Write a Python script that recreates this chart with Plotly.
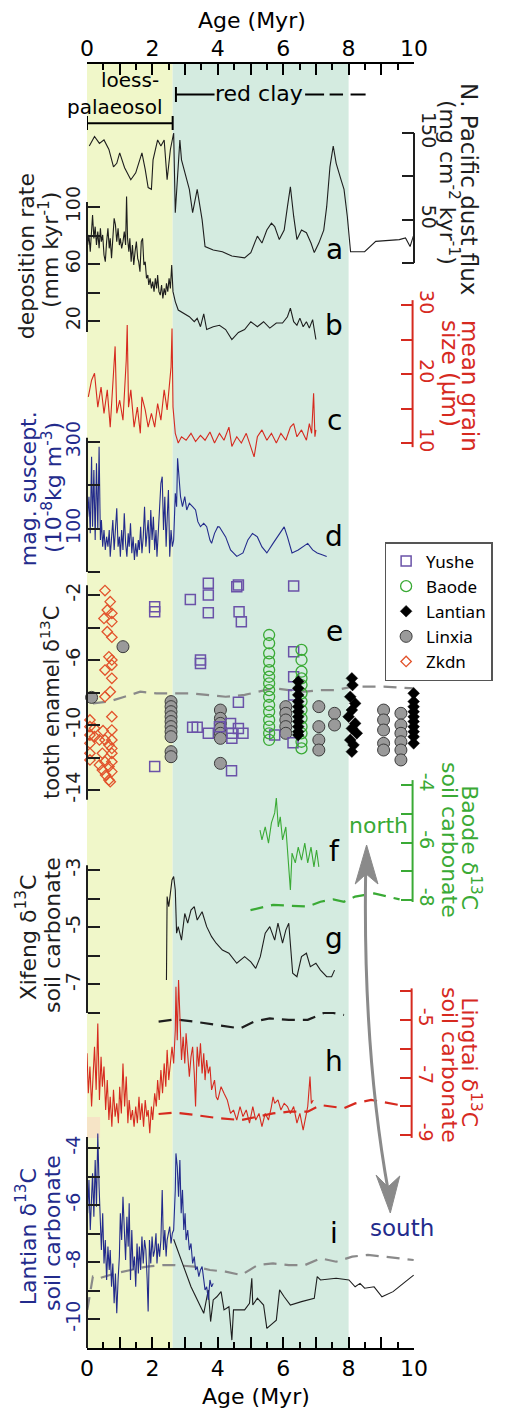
import plotly.graph_objects as go

FONT = "DejaVu Sans, Noto Sans, sans-serif"
LFONT = "Noto Sans, DejaVu Sans, sans-serif"
W, H = 505, 1410
PL, PR, PT, PB = 87, 432, 64, 1348

# ---------------- data ----------------
# a: N. Pacific dust flux (mg cm-2 kyr-1)
a_age = [0.07,0.23,0.38,0.52,0.67,0.81,0.91,1.0,1.15,1.34,1.49,1.68,1.78,1.87,1.97,2.02,2.16,2.26,2.36,2.45,
         2.55,2.65,2.7,2.77,2.84,2.89,2.99,3.13,3.23,3.37,3.52,3.61,3.86,4.14,4.43,4.82,5.01,5.21,5.35,5.5,
         5.64,5.74,5.88,6.03,6.13,6.22,6.32,6.42,6.56,6.71,6.85,6.95,7.09,7.24,7.33,7.43,7.53,7.62,7.77,7.86,
         7.96,8.06,8.49,8.83,9.55,9.74,9.88,9.98]
a_flux = [135,146,138,142,131,111,115,127,110,96,104,127,108,87,85,119,142,135,142,96,
          131,150,58,104,142,119,104,85,58,85,50,19,15,13,8,6,12,31,23,38,
          46,42,27,38,65,88,54,27,38,35,23,12,23,38,65,111,135,115,96,85,
          54,13,13,25,27,29,19,31]

# b: deposition rate (mm kyr-1)
b_age = [0.02,0.06,0.1,0.14,0.17,0.21,0.25,0.29,0.33,0.37,0.41,0.44,0.48,0.52,0.56,0.6,0.64,0.68,0.71,0.75,
         0.79,0.83,0.87,0.91,0.95,0.99,1.02,1.06,1.1,1.14,1.18,1.21,1.24,1.28,1.31,1.35,1.39,1.43,1.47,1.51,
         1.55,1.58,1.62,1.66,1.7,1.74,1.78,1.82,1.86,1.89,1.93,1.97,2.01,2.05,2.09,2.13,2.16,2.2,2.24,2.28,
         2.32,2.36,2.4,2.43,2.47,2.51,2.55,2.59,2.63,
         2.7,2.79,2.94,3.13,3.28,3.37,3.47,3.57,3.66,3.86,4.05,4.24,4.43,4.63,4.82,5.01,5.21,5.4,5.59,5.79,
         5.98,6.13,6.22,6.32,6.42,6.51,6.61,6.71,6.8,6.9,7.0]
b_rate = [73.3,80.4,68.7,85.0,94.4,78.0,86.2,73.3,82.7,71.0,85.0,75.7,80.4,66.3,61.6,75.7,85.0,71.0,78.0,64.0,
          80.4,92.0,87.4,75.7,85.0,73.3,78.0,71.0,75.7,82.7,73.3,107.3,78.0,68.7,78.0,61.6,73.3,59.3,68.7,75.7,
          64.0,61.6,54.6,75.7,78.0,59.3,61.6,49.9,52.3,45.3,49.9,42.9,47.6,40.6,49.9,42.9,52.3,40.6,38.2,45.3,
          35.9,42.9,38.2,46.4,40.6,49.9,42.9,59.3,40.6,
          33.6,27.7,25.4,23.0,19.5,21.9,16.0,25,14,16,17,14,7,12,14,19.5,16,19.5,15,18.6,
          18.6,23,29,19.5,17,22,16,19.5,15,21,7]

# c: mean grain size (um)
c_age = [0.04,0.14,0.23,0.33,0.43,0.52,0.62,0.71,0.81,0.86,0.91,1.0,1.1,1.2,1.23,1.27,1.34,1.44,1.54,1.63,
         1.68,1.78,1.87,1.97,2.07,2.16,2.26,2.36,2.45,2.52,2.57,2.6,2.63,2.7,2.79,2.89,3.03,3.18,3.32,3.47,
         3.61,3.76,3.9,4.05,4.19,4.34,4.43,4.58,4.72,4.87,5.01,5.11,5.21,5.35,5.5,5.64,5.79,5.93,6.08,6.22,
         6.32,6.42,6.56,6.71,6.8,6.87,6.93,6.97,7.0]
c_size = [16.7,19.1,20.1,15.2,18.1,14.3,17.7,12.3,20.1,24,14.3,16.2,13.3,22,27.1,15.2,17.7,12.3,15.2,11.4,
          16.7,14.8,12.3,14.3,12.3,15.7,13.3,17.7,14.8,18.1,21,26.6,15.2,11.4,10,10.9,10.4,11.4,10.2,11.1,
          10.4,11.6,10,11.4,10.4,12.3,9.5,10.9,10,11.4,9.5,8,10.9,11.9,10.4,11.4,10,11.4,10.4,12.3,
          12.8,10.9,11.9,10.4,12.8,11.4,17.2,10.9,11.9]

# d: magnetic susceptibility (1e-8 kg m-3)
d_age = [0.02,0.06,0.1,0.14,0.17,0.21,0.25,0.29,0.33,0.37,0.41,0.44,0.48,0.52,0.56,0.6,0.64,0.68,0.71,0.75,
         0.79,0.83,0.87,0.91,0.95,0.99,1.02,1.06,1.1,1.14,1.18,1.22,1.26,1.29,1.33,1.37,1.41,1.45,1.49,1.53,
         1.57,1.6,1.64,1.68,1.72,1.76,1.8,1.84,1.87,1.91,1.95,1.99,2.03,2.07,2.11,2.14,2.18,2.22,2.26,2.3,
         2.34,2.38,2.42,2.45,2.49,2.53,2.57,2.61,2.65,
         2.7,2.74,2.77,2.82,2.86,2.92,2.99,3.05,3.13,3.23,3.32,3.39,3.47,3.57,3.66,3.76,3.81,3.9,4.0,
         4.05,4.24,4.39,4.58,4.77,4.92,5.06,5.21,5.35,5.5,5.69,5.88,6.03,6.13,6.27,6.46,6.61,6.75,6.9,7.04,
         7.19,7.33]
d_ms = [127.7,173.8,89.2,266.2,104.6,235.4,73.8,250.8,96.9,289.2,73.8,120.0,58.5,96.9,50.8,81.5,58.5,96.9,35.4,73.8,
        120.0,50.8,96.9,146.9,58.5,81.5,35.4,96.9,50.8,135.4,66.2,35.4,89.2,58.5,112.3,43.1,81.5,27.7,66.2,35.4,
        73.8,50.8,104.6,43.1,81.5,150.8,58.5,89.2,120.0,43.1,143.1,73.8,127.7,50.8,96.9,35.4,104.6,150.8,204.6,220.0,
        96.9,173.8,58.5,120.0,189.2,35.4,96.9,58.5,73.8,
        181.5,150.8,262.3,220.0,173.8,150.8,173.8,143.1,158.5,150.8,143.1,116.2,104.6,112.3,104.6,73.8,66.2,89.2,104.6,
        104,81,51,36,44,74,89,81,58,44,66,89,104,81,44,51,58,66,51,44,
        40,36]

# e: tooth enamel d13C
yushe_age = [2.07,2.07,3.16,3.71,3.71,3.71,4.63,4.58,4.65,4.72,3.47,3.47,4.63,6.32,6.32,6.32,6.32,6.30,2.07,
             3.23,3.37,3.71,4.05,4.39,4.43,4.43,4.63,4.77,4.42,5.74]
yushe_d13c = [-2.72,-3.03,-2.27,-1.28,-2.0,-3.09,-1.38,-1.49,-3.03,-3.64,-6.0,-6.21,-8.6,-1.45,-5.49,-7.03,-8.15,-11.09,-12.56,
              -10.14,-10.14,-10.51,-10.1,-9.9,-10.51,-10.82,-10.21,-10.51,-12.81,-10.62]
baode_age = [5.57]*15 + [6.56]*13
baode_d13c = [-4.46,-4.97,-5.59,-6.1,-6.62,-7.03,-7.44,-7.85,-8.26,-8.77,-9.18,-9.69,-10.1,-10.51,-10.92,
              -5.38,-6.0,-6.72,-7.13,-7.54,-8.05,-8.56,-9.08,-9.59,-10.1,-10.51,-11.03,-11.44]
lantian_age = [6.46]*11 + [8.1,8.12,8.05,8.2,8.1,8.0,8.2,8.1,8.25,8.05,8.15,8.1] + [9.99]*10
lantian_d13c = [-7.33,-7.74,-8.15,-8.56,-8.87,-9.18,-9.49,-9.79,-10.1,-10.41,-10.62,
                -7.13,-7.54,-8.26,-8.67,-9.08,-9.49,-9.9,-10.21,-10.51,-10.92,-11.23,-11.64,
                -8.05,-8.56,-8.87,-9.18,-9.49,-9.79,-10.1,-10.41,-10.72,-11.13]
linxia_age = [1.10,0.14] + [2.57]*10 + [4.08]*7 + [6.08]*5 + [7.09]*4 + [7.57]*2 + [9.07]*5 + [9.6]*6
linxia_d13c = [-5.18,-8.3,
               -8.56,-8.87,-9.18,-9.49,-9.79,-10.1,-10.41,-10.72,-11.64,-11.95,
               -9.08,-9.59,-9.9,-10.21,-10.51,-10.82,-12.36,
               -8.87,-9.28,-9.69,-10.1,-10.51,
               -8.87,-10.1,-10.92,-11.54,
               -9.28,-10.0,
               -9.08,-9.69,-10.31,-11.13,-11.54,
               -9.28,-10.0,-10.51,-11.03,-11.54,-12.15]
zkdn_age = [0.55,0.71,0.62,0.76,0.52,0.76,0.62,0.76,0.67,0.76,0.76,0.55,0.76,0.71,0.55,0.76,0.09,0.09,0.23,0.49,
            0.76,0.09,0.23,0.38,0.55,0.76,0.09,0.67,0.76,0.09,0.47,0.76,0.09,0.55,0.76,0.38,0.67,0.47,0.76,0.57,
            0.67,0.71]
zkdn_d13c = [-1.73,-2.41,-2.92,-3.13,-3.44,-3.64,-4.26,-4.6,-5.8,-6.0,-6.31,-6.62,-7.13,-7.95,-8.26,-9.49,-9.69,-10.1,-10.2,-10.35,
             -10.31,-10.62,-10.72,-10.92,-10.92,-10.92,-11.13,-11.23,-11.44,-11.74,-11.74,-11.74,-12.15,-12.26,-12.26,-12.46,-12.56,-12.77,-12.87,-13.08,
             -13.38,-13.49]
e_dash_age = [0.18,0.67,1.15,1.63,2.12,2.6,3.18,3.66,4.24,4.82,5.21,5.69,6.17,6.66,7.14,7.62,8.11,8.59,9.07,9.99]
e_dash_val = [-8.67,-8.56,-8.26,-7.95,-8.05,-8.05,-8.05,-8.15,-8.26,-8.15,-7.95,-7.74,-7.85,-7.95,-7.85,-7.85,-7.64,-7.64,-7.64,-7.74]

# f: Baode soil carbonate d13C
f_age = [5.29,5.35,5.45,5.55,5.64,5.74,5.79,5.85,5.91,5.98,6.08,6.13,6.22,6.27,6.37,6.46,6.56,6.66,6.75,6.85,6.94,7.02,7.09]
f_d13c = [-5.57,-5.91,-5.46,-6.02,-5.32,-4.97,-4.45,-5.46,-5.11,-5.91,-5.46,-6.16,-7.65,-6.37,-6.71,-6.16,-6.61,-6.02,-6.71,-6.16,-6.85,-6.26,-6.85]
f_dash_age = [5.0,5.69,6.75,7.14,7.53,7.86,8.2,8.78,9.56]
f_dash_val = [-8.35,-8.17,-8.23,-8.06,-7.98,-8.06,-7.88,-7.77,-7.98]

# g: Xifeng soil carbonate d13C
g_age = [2.43,2.43,2.45,2.5,2.55,2.6,2.65,2.7,2.74,2.79,2.89,2.99,3.08,3.18,3.28,3.37,3.52,3.66,3.81,3.95,
         4.14,4.34,4.58,4.82,5.01,5.16,5.3,5.45,5.59,5.74,5.84,5.98,6.08,6.17,6.29,6.42,6.56,6.71,6.83,7.0,
         7.14,7.33,7.48,7.57]
g_d13c = [-6.85,-5.45,-3.93,-4.28,-3.82,-3.35,-3.23,-3.7,-5.21,-4.98,-5.45,-4.52,-4.86,-4.4,-4.28,-4.75,-4.46,-4.98,-5.33,-5.56,
          -5.8,-5.91,-6.26,-6.03,-6.21,-6.44,-6.03,-5.21,-4.98,-5.45,-4.86,-5.56,-5.1,-4.86,-6.61,-6.73,-6.03,-5.91,-6.38,-6.26,
          -6.5,-6.73,-6.73,-6.5]
g_dash_age = [2.19,2.7,3.28,4.05,4.68,5.11,5.59,6.17,6.75,7.24,7.53,7.86]
g_dash_val = [-8.3,-8.22,-8.3,-8.42,-8.54,-8.3,-8.19,-8.24,-8.24,-8.0,-8.0,-8.07]

# h: Lingtai soil carbonate d13C
h_age = [0.0,0.04,0.09,0.14,0.18,0.23,0.28,0.33,0.38,0.43,0.47,0.52,0.57,0.62,0.67,0.71,0.76,0.81,0.86,0.91,
         0.96,1.0,1.05,1.1,1.15,1.2,1.25,1.29,1.34,1.39,1.44,1.49,1.54,1.59,1.63,1.68,1.73,1.78,1.83,1.87,
         1.92,1.97,2.01,2.07,2.12,2.16,2.21,2.26,2.31,2.36,2.41,2.45,2.5,2.55,2.6,2.65,2.7,2.72,2.76,2.8,
         2.84,2.89,2.94,2.99,3.03,3.08,3.13,3.18,3.23,3.28,3.32,3.37,3.42,3.47,3.52,3.57,3.61,3.66,3.71,3.76,
         3.81,3.9,3.95,4.0,4.1,4.19,4.29,4.34,4.39,4.48,4.58,4.68,4.77,4.87,4.97,5.07,5.16,5.26,5.35,5.45,
         5.55,5.64,5.69,5.74,5.84,5.93,6.03,6.13,6.22,6.32,6.42,6.51,6.61,6.71,6.75,6.82,6.86,6.92]
h_d13c = [-6.16,-7.55,-6.62,-8.01,-7.09,-5.93,-7.43,-5.12,-7.78,-6.28,-7.32,-6.62,-8.13,-7.09,-8.48,-7.67,-8.71,-7.43,-8.36,-7.9,
          -8.59,-7.32,-8.25,-6.51,-8.01,-6.97,-8.59,-7.78,-8.48,-8.13,-8.71,-8.01,-8.59,-7.67,-8.48,-7.9,-8.71,-7.78,-8.36,-8.13,
          -8.94,-8.01,-8.48,-7.55,-8.01,-7.09,-7.78,-6.74,-7.55,-6.51,-7.32,-6.04,-7.09,-6.39,-5.93,-6.51,-5.35,-3.84,-5.7,-3.61,
          -4.77,-6.39,-5.58,-6.51,-5.46,-6.16,-6.97,-6.28,-5.93,-6.86,-8.01,-5.93,-6.62,-5.81,-6.86,-6.16,-7.09,-6.39,-6.86,-6.62,
          -7.43,-7.09,-7.67,-7.78,-7.32,-7.55,-7.78,-8.01,-8.25,-8.13,-8.48,-8.01,-8.36,-8.13,-8.59,-8.01,-8.48,-8.25,-8.71,-8.25,
          -8.48,-8.01,-7.67,-7.9,-7.78,-8.13,-7.9,-8.01,-8.25,-8.01,-8.59,-8.25,-8.83,-8.25,-8.01,-6.97,-7.9,-7.78]
h_dash_age = [2.19,2.7,3.28,4.05,4.72,5.2,5.69,6.17,6.75,7.14,7.53,7.86,8.2,8.69,9.56]
h_dash_val = [-8.27,-8.22,-8.3,-8.42,-8.48,-8.36,-8.25,-8.19,-8.19,-7.96,-8.01,-8.07,-7.9,-7.78,-7.96]

# i: Lantian soil carbonate d13C
i_age = [0.02,0.06,0.1,0.14,0.17,0.21,0.25,0.29,0.33,0.37,0.41,0.44,0.48,0.52,0.56,0.6,0.64,0.68,0.71,0.75,
         0.79,0.83,0.87,0.91,0.95,0.99,1.02,1.06,1.1,1.14,1.18,1.22,1.26,1.29,1.33,1.37,1.41,1.45,1.49,1.53,
         1.57,1.6,1.64,1.68,1.72,1.76,1.8,1.84,1.87,1.91,1.95,1.99,2.03,2.07,2.11,2.14,2.18,2.22,2.26,2.3,
         2.34,2.38,2.42,2.45,2.49,2.53,2.57,2.61,2.65,2.7,2.72,2.76,2.8,2.84,2.88,2.92,2.96,3.0,3.03,3.08,
         3.13,3.18,3.23,3.28,3.32,3.37,3.42,3.47,3.52,3.57,3.61,3.66,3.71,3.76,3.81,3.86]
i_d13c = [-6.29,-5.12,-6.88,-5.71,-4.89,-6.41,-4.42,-6.06,-3.49,-5.36,-6.64,-7.58,-6.29,-8.05,-7.23,-8.63,-7.46,-8.28,-7.58,-8.87,
          -8.05,-9.45,-8.4,-9.8,-8.63,-7.81,-6.29,-7.23,-5.71,-6.88,-7.93,-6.41,-7.46,-5.94,-8.63,-6.88,-8.28,-7.81,-8.87,-7.35,
          -8.4,-7.46,-8.28,-7.11,-8.05,-7.23,-7.58,-8.63,-9.74,-7.23,-8.05,-7.11,-7.81,-7.58,-6.99,-8.05,-7.35,-7.81,-7.23,-5.47,
          -7.58,-6.88,-7.81,-7.23,-6.99,-6.76,-7.35,-6.99,-6.88,-5.47,-4.19,-4.65,-5.71,-4.42,-6.29,-5.47,-6.88,-6.29,-7.23,-6.88,
          -7.58,-7.35,-8.05,-7.81,-8.28,-8.16,-8.51,-8.28,-8.16,-8.75,-8.98,-8.87,-9.33,-8.63,-8.87,-8.75]
i2_age = [2.65,2.89,3.18,3.57,3.71,3.78,3.86,3.97,4.1,4.19,4.34,4.43,4.48,4.63,4.82,4.97,5.04,5.07,5.21,5.4,
          5.5,5.79,5.89,6.03,6.22,6.56,6.95,7.04,7.14,7.62,8.01,8.2,8.35,8.49,8.78,9.02,9.36,9.74,9.88,9.99]
i2_d13c = [-7.2,-7.93,-8.87,-9.8,-8.98,-10.09,-9.33,-9.22,-9.04,-9.68,-9.57,-10.74,-9.68,-9.68,-9.68,-9.45,-8.57,-9.51,-9.27,-9.51,
           -10.33,-10.04,-8.98,-9.22,-9.51,-9.39,-9.27,-8.51,-8.63,-8.57,-8.63,-8.87,-8.75,-8.92,-8.87,-9.22,-9.04,-8.69,-8.57,-8.46]
i_dash_age = [0.01,0.18,0.38,0.86,1.34,1.83,2.31,2.7,3.28,3.76,4.24,4.72,5.21,5.69,6.17,6.66,7.14,7.62,8.11,8.59,9.07,9.56,9.99]
i_dash_val = [-9.68,-8.51,-8.57,-8.4,-8.28,-8.16,-8.11,-8.11,-8.16,-8.28,-8.34,-8.46,-8.11,-8.05,-8.11,-8.11,-7.87,-7.99,-7.81,-7.75,-7.81,-7.87,-7.93]

x_label_ticks = [0, 2, 4, 6, 8, 10]
x_label_text = ["0", "2", "4", "6", "8", "10"]
x_odd_ticks = [1, 3, 5, 7, 9]
x_half_ticks = [0.5, 1.5, 2.5, 3.5, 4.5, 5.5, 6.5, 7.5, 8.5, 9.5]

# ---------------- style ----------------
BLACK = "#1e1e1e"
RED = "#d62a1f"
BLUE = "#232b8c"
GREEN = "#3aaa35"
PURPLE = "#6a52a8"
ORANGE = "#e2532c"
GREY = "#8a8a8a"


def px(x):
    return (x - PL) / (PR - PL)


def py(y):
    return (PB - y) / (PB - PT)


def yrange(v1, p1, v2, p2):
    k = (v2 - v1) / (p2 - p1)
    return [v1 + (PB - p1) * k, v1 + (PT - p1) * k]


fig = go.Figure()

for xa in ["x", "x2", "x3", "x4"]:
    fig.add_trace(go.Scatter(x=[0, 10], y=[0, 0], xaxis=xa, yaxis="y", mode="lines",
                             line=dict(width=0), showlegend=False, hoverinfo="skip"))


def line(x, y, ax, color, width=1.1, dash=None):
    fig.add_trace(go.Scatter(x=x, y=y, xaxis="x", yaxis=ax, mode="lines",
                             line=dict(color=color, width=width, dash=dash),
                             showlegend=False, hoverinfo="skip"))


DASH = "13px,8px"
line(a_age, a_flux, "y2", BLACK)
line(b_age, b_rate, "y3", BLACK)
line(c_age, c_size, "y4", RED)
line(d_age, d_ms, "y5", BLUE)
line(e_dash_age, e_dash_val, "y6", GREY, 2.2, DASH)
line(f_age, f_d13c, "y7", GREEN)
line(f_dash_age, f_dash_val, "y7", GREEN, 2.2, DASH)
line(g_age, g_d13c, "y8", BLACK)
line(g_dash_age, g_dash_val, "y8", BLACK, 2.2, DASH)
line(h_age, h_d13c, "y9", RED)
line(h_dash_age, h_dash_val, "y9", RED, 2.2, DASH)
line(i_dash_age, i_dash_val, "y10", GREY, 2.2, DASH)
line(i2_age, i2_d13c, "y10", BLACK)
line(i_age, i_d13c, "y10", BLUE)


def pts(x, y, name, symbol, size, color, fill, lw, rank):
    fig.add_trace(go.Scatter(x=x, y=y, xaxis="x", yaxis="y6", mode="markers", name=name,
                             marker=dict(symbol=symbol, size=size, color=fill,
                                         line=dict(color=color, width=lw)),
                             cliponaxis=False, legendrank=rank, hoverinfo="skip"))


pts(linxia_age, linxia_d13c, "Linxia", "circle", 12, "#3c3c3c", "#9a9a9a", 1, 4)
pts(zkdn_age, zkdn_d13c, "Zkdn", "diamond-open", 8, ORANGE, ORANGE, 1.3, 5)
pts(yushe_age, yushe_d13c, "Yushe", "square-open", 10, PURPLE, PURPLE, 1.5, 1)
pts(baode_age, baode_d13c, "Baode", "circle-open", 11, GREEN, GREEN, 1.3, 2)
pts(lantian_age, lantian_d13c, "Lantian", "diamond", 9, "black", "black", 0.5, 3)

# ---------------- axes ----------------
def xlab(standoff):
    return dict(range=[0, 10], showline=True, linewidth=2, linecolor="black",
                ticks="inside", ticklen=11, tickwidth=2, tickcolor="black",
                tickvals=x_label_ticks, ticktext=x_label_text, showgrid=False, zeroline=False,
                tickfont=dict(size=22, family=FONT, color="black"),
                minor=dict(tickvals=x_half_ticks, ticks="inside", ticklen=6, tickwidth=2, tickcolor="black"),
                ticklabelstandoff=standoff)


xodd = dict(range=[0, 10], showline=False, ticks="inside", ticklen=11, tickwidth=2, tickcolor="black",
            tickvals=x_odd_ticks, showticklabels=False, showgrid=False, zeroline=False)

layout = dict(
    width=W, height=H,
    margin=dict(l=PL, r=W - PR, t=PT, b=H - PB, pad=0),
    paper_bgcolor="white", plot_bgcolor="rgba(0,0,0,0)",
    font=dict(family=FONT, color="black"),
    xaxis=dict(domain=[0, 1], anchor="y", side="bottom", **xlab(0)),
    xaxis2=dict(overlaying="x", anchor="y", side="top", **xlab(-3)),
    xaxis3=dict(overlaying="x", anchor="y", side="bottom", **xodd),
    xaxis4=dict(overlaying="x", anchor="y", side="top", **xodd),
    yaxis=dict(domain=[0, 1], range=[0, 1], visible=False, fixedrange=True),
    showlegend=True,
    legend=dict(x=px(401), y=py(542), xanchor="left", yanchor="top",
                bordercolor="#555555", borderwidth=1.5, bgcolor="white",
                font=dict(size=17, family=LFONT, color="black"),
                itemwidth=30, tracegroupgap=0),
)

RPOS = px(430.5)
axes_spec = {
    # name: (v1, p1, v2, p2, pos, side, color, label color, labelled ticks, labels, other ticks, spine)
    "yaxis2": (150, 133, 0, 263, 1.0, "right", BLACK, BLACK, [50, 150], ["50", "150"], [0, 100], (0, 150)),
    "yaxis3": (100, 207, 20, 321, 0.0, "left", BLACK, BLACK, [20, 60, 100], ["20", "60", "100"], [40, 80], (12.3, 103.5)),
    "yaxis4": (30, 305, 10, 443, RPOS, "right", RED, RED, [10, 20, 30], ["10", "20", "30"], [15, 25], (9.4, 30.7)),
    "yaxis5": (300, 442, 0, 572, 0.0, "left", BLACK, BLUE, [100, 300], ["100", "300"], [0, 200], (0, 310)),
    "yaxis6": (-2, 595, -14, 790, 0.0, "left", BLACK, BLACK, [-14, -10, -6, -2], ["-14", "-10", "-6", "-2"],
               [-12, -8, -4], (-14.6, -1.4)),
    "yaxis7": (-4, 785, -8, 900, RPOS, "right", GREEN, GREEN, [-8, -6, -4], ["-8", "-6", "-4"], [-7, -5], (-8.07, -3.83)),
    "yaxis8": (-3, 870, -8, 1013, 0.0, "left", BLACK, BLACK, [-7, -5, -3], ["-7", "-5", "-3"], [-8, -6, -4], (-8.0, -2.83)),
    "yaxis9": (-5, 1020, -9, 1135, px(429.5), "right", RED, RED, [-9, -7, -5], ["-9", "-7", "-5"], [-8, -6, -4], (-9.1, -3.9)),
    "yaxis10": (-4, 1148, -10, 1319, 0.0, "left", BLACK, BLUE, [-10, -8, -6, -4], ["-10", "-8", "-6", "-4"],
                [-9, -7, -5], (-11.02, -3.61)),
}

shapes = []
# background bands
shapes.append(dict(type="rect", xref="x", yref="paper", x0=0, x1=2.62, y0=0, y1=1,
                   fillcolor="#f0f7c9", line=dict(width=0), layer="below"))
shapes.append(dict(type="rect", xref="x", yref="paper", x0=2.62, x1=8.0, y0=0, y1=1,
                   fillcolor="#d4ebe0", line=dict(width=0), layer="below"))
shapes.append(dict(type="rect", xref="x", yref="paper", x0=0, x1=0.4, y0=py(1138), y1=py(1117),
                   fillcolor="#f6e4c6", line=dict(width=0), layer="below"))

for name, (v1, p1, v2, p2, pos, side, color, lcolor, tv, tt, mv, spine) in axes_spec.items():
    rng = yrange(v1, p1, v2, p2)
    angle = -90 if side == "left" else 90
    layout[name] = dict(overlaying="y", anchor="free", position=pos, side=side, range=rng,
                        showgrid=False, zeroline=False, showline=False,
                        ticks="inside", ticklen=12, tickwidth=2, tickcolor=color,
                        tickvals=tv, ticktext=tt, tickangle=angle,
                        minor=dict(tickvals=mv, ticks="inside", ticklen=12, tickwidth=2, tickcolor=color,
                                   showgrid=False),
                        tickfont=dict(size=19, family=FONT, color=lcolor),
                        ticklabelstandoff=3, fixedrange=True)
    yref = "y" + name[5:]
    shapes.append(dict(type="line", xref="paper", yref=yref, x0=pos, x1=pos,
                       y0=spine[0], y1=spine[1], line=dict(color=color, width=2), layer="above"))

# header brackets
HB = dict(color="black", width=2)
shapes += [
    dict(type="line", xref="x", yref="paper", x0=0, x1=2.62, y0=py(123.3), y1=py(123.3), line=HB),
    dict(type="line", xref="x", yref="paper", x0=0, x1=0, y0=py(116), y1=py(130), line=HB),
    dict(type="line", xref="x", yref="paper", x0=2.62, x1=2.62, y0=py(116), y1=py(130), line=HB),
    dict(type="line", xref="x", yref="paper", x0=2.72, x1=2.72, y0=py(87), y1=py(102), line=HB),
    dict(type="line", xref="x", yref="paper", x0=2.72, x1=3.9, y0=py(94.5), y1=py(94.5), line=HB),
    dict(type="line", xref="x", yref="paper", x0=6.67, x1=7.25, y0=py(94.5), y1=py(94.5), line=HB),
    dict(type="line", xref="x", yref="paper", x0=7.42, x1=7.83, y0=py(94.5), y1=py(94.5), line=HB),
    dict(type="line", xref="x", yref="paper", x0=8.06, x1=8.52, y0=py(94.5), y1=py(94.5), line=HB),
]


# north-south arrow
def P(x, y):
    return f"{px(x):.5f},{py(y):.5f}"


shapes.append(dict(type="path", xref="paper", yref="paper",
                   path=f"M {P(381, 872)} Q {P(378, 1050)} {P(405, 1192)}",
                   line=dict(color=GREY, width=3)))
shapes.append(dict(type="path", xref="paper", yref="paper",
                   path=f"M {P(382, 845)} L {P(394, 884)} L {P(381.5, 874)} L {P(370, 884)} Z",
                   fillcolor=GREY, line=dict(color=GREY, width=1)))
shapes.append(dict(type="path", xref="paper", yref="paper",
                   path=f"M {P(407, 1213)} L {P(392, 1175)} L {P(404.5, 1187)} L {P(417, 1176)} Z",
                   fillcolor=GREY, line=dict(color=GREY, width=1)))

layout["shapes"] = shapes

# ---------------- text ----------------
anns = []


def ann(text, x, y, size=22, color="black", angle=0):
    anns.append(dict(text=text, x=px(x), y=py(y), xref="paper", yref="paper",
                     showarrow=False, textangle=angle, xanchor="center", yanchor="middle",
                     font=dict(size=size, family=FONT, color=color)))


ann("Age (Myr)", 261, 20, 22)
ann("Age (Myr)", 265, 1396, 22)
ann("loess-", 132, 80, 20)
ann("palaeosol", 117, 107, 20)
ann("red clay", 268, 94, 22)

ann("N. Pacific dust flux", 490, 189, 23, BLACK, 90)
ann("(mg cm<sup>-2</sup> kyr<sup>-1</sup>)", 469, 182, 22, BLACK, 90)
ann("deposition rate", 23, 256, 22, BLACK, -90)
ann("(mm kyr<sup>-1</sup>)", 47, 250, 22, BLACK, -90)
ann("mean grain", 491, 386, 23, RED, 90)
ann("size (µm)", 470, 373, 23, RED, 90)
ann("mag. suscept.", 25, 489, 22, BLUE, -90)
ann("(10<sup>-8</sup>kg m<sup>-3</sup>)", 50, 487, 22, BLUE, -90)
ann("tooth enamel δ<sup>13</sup>C", 48, 703, 21, BLACK, -90)
ann("Baode δ<sup>13</sup>C", 492, 848, 22, GREEN, 90)
ann("soil carbonate", 470, 840, 22, GREEN, 90)
ann("Xifeng δ<sup>13</sup>C", 23, 937, 22, BLACK, -90)
ann("soil carbonate", 50, 935, 22, BLACK, -90)
ann("Lingtai δ<sup>13</sup>C", 492, 1062, 22, RED, 90)
ann("soil carbonate", 470, 1065, 22, RED, 90)
ann("Lantian δ<sup>13</sup>C", 23, 1237, 22, BLUE, -90)
ann("soil carbonate", 50, 1233, 22, BLUE, -90)

for lab, yy in [("a", 250), ("b", 326), ("c", 420), ("d", 536), ("e", 631),
                ("f", 851), ("g", 938), ("h", 1061), ("i", 1233)]:
    ann(lab, 348, yy, 28)

ann("north", 395, 825, 22, GREEN)
ann("south", 419, 1228, 23, BLUE)

layout["annotations"] = anns
fig.update_layout(**layout)
fig.write_html("out.html",
               config={"displayModeBar": False, "staticPlot": True},
               post_script="document.body.style.margin='0px';document.body.style.overflow='hidden';")
